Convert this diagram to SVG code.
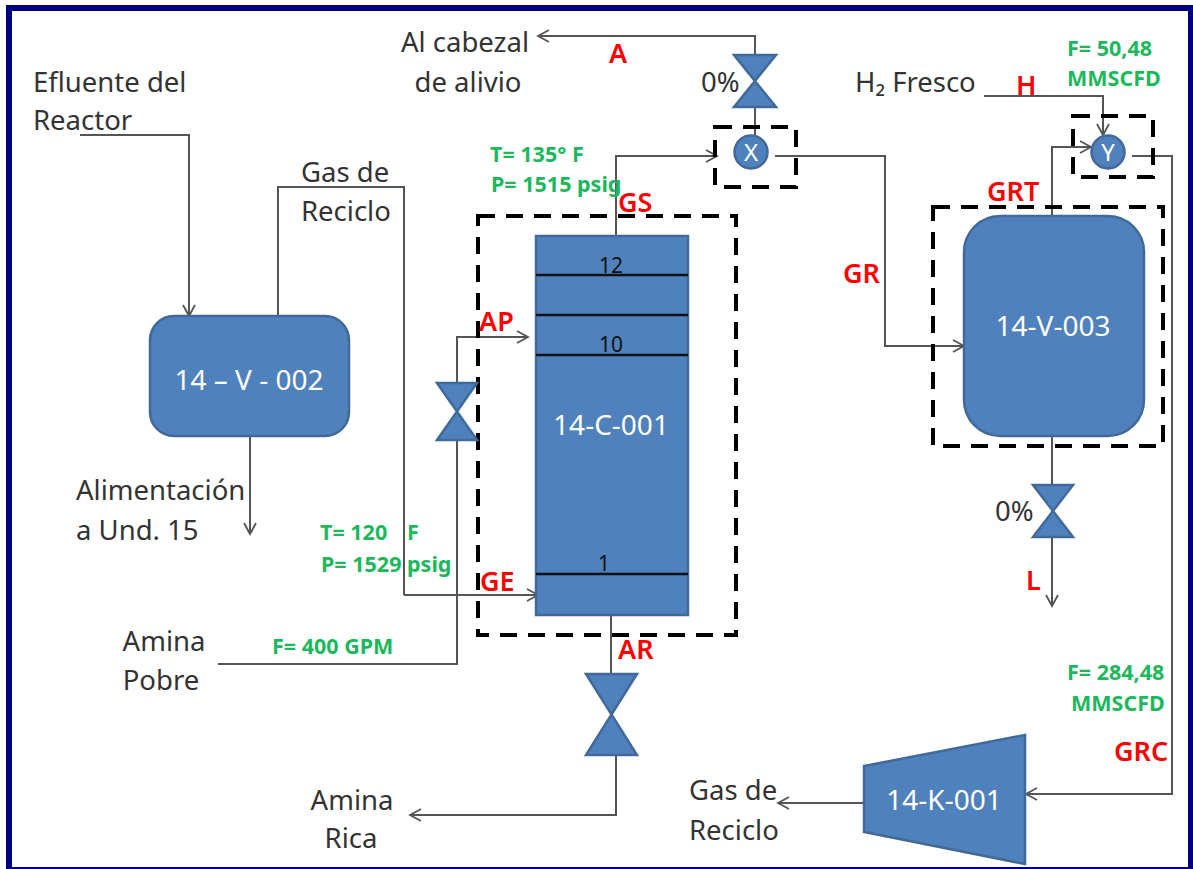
<svg xmlns="http://www.w3.org/2000/svg" width="1193" height="869" viewBox="0 0 1193 869">
<style>
text{font-family:"Noto Sans","Liberation Sans",sans-serif}
.t{font-size:27.5px;fill:#333}
.w{font-size:28px;fill:#fff}
.r{font-size:27px;fill:#f00;font-weight:600}
.g{font-size:21.5px;fill:#1cb85c;font-weight:700}
.n{font-size:21px;fill:#111;text-anchor:middle}
.m{text-anchor:middle}
.c{fill:none;stroke:#555;stroke-width:2}
.b{fill:#4f81bd;stroke:#41699a;stroke-width:2.5}
.d{fill:none;stroke:#000;stroke-width:4;stroke-dasharray:17 11}
.l{stroke:#111;stroke-width:2.5}
</style>
<defs><marker id="a" markerWidth="16" markerHeight="16" refX="12" refY="7" orient="auto" markerUnits="userSpaceOnUse"><path d="M1 1L12 7L1 13" fill="none" stroke="#555" stroke-width="1.8"/></marker></defs>
<rect x="9" y="8" width="1182" height="862" fill="#fff" stroke="#000080" stroke-width="6"/>
<g id="connectors">
<path class="c" marker-end="url(#a)" d="M80 135H189V316"/>
<path class="c" d="M278 316V187H404V595"/>
<path class="c" marker-end="url(#a)" d="M404 595H538"/>
<path class="c" marker-end="url(#a)" d="M250 436V534"/>
<path class="c" marker-end="url(#a)" d="M218 664H457V337H528"/>
<path class="c" marker-end="url(#a)" d="M616 236V156H717"/>
<path class="c" marker-end="url(#a)" d="M755 135V36H538"/>
<path class="c" marker-end="url(#a)" d="M775 156H885V346H964"/>
<path class="c" marker-end="url(#a)" d="M984 96H1103V135"/>
<path class="c" marker-end="url(#a)" d="M1052 216V147H1091"/>
<path class="c" marker-end="url(#a)" d="M1132 156H1172V794H1026"/>
<path class="c" marker-end="url(#a)" d="M1052 436V606"/>
<path class="c" d="M611 616V674"/>
<path class="c" marker-end="url(#a)" d="M616 755V815H410"/>
<path class="c" marker-end="url(#a)" d="M864 803H778"/>
</g>
<g id="dashed-boxes">
<rect class="d" x="478" y="216" width="258" height="419"/>
<rect class="d" x="715" y="127" width="81" height="60"/>
<rect class="d" x="933" y="207" width="230" height="239"/>
<rect class="d" x="1073" y="116" width="80" height="61"/>
</g>
<g id="v002"><rect class="b" x="150" y="316" width="199" height="120" rx="24"/><text class="w m" x="249" y="390">14 – V - 002</text></g>
<g id="c001"><rect class="b" x="536" y="236" width="152" height="379"/>
<path class="l" d="M536 275H688M536 315H688M536 355H688M536 574H688"/>
<text class="n" x="611" y="273">12</text><text class="n" x="611" y="352">10</text><text class="n" x="604" y="571">1</text>
<text class="w m" x="611" y="435">14-C-001</text></g>
<g id="v003"><rect class="b" x="964" y="216" width="180" height="220" rx="36"/><text class="w m" x="1053" y="336">14-V-003</text></g>
<g id="k001"><path class="b" d="M864 766L1025 735V864L864 832Z"/><text class="w m" x="944" y="810">14-K-001</text></g>
<g id="valve-top"><path class="b" d="M734 55H776L734 107H776Z"/></g>
<g id="valve-amine"><path class="b" d="M437 383H477L437 440H477Z"/></g>
<g id="valve-bottom"><path class="b" d="M586 674H637L586 755H637Z"/></g>
<g id="valve-l"><path class="b" d="M1033 485H1073L1033 537H1073Z"/></g>
<g id="x"><circle class="b" cx="751" cy="152" r="16.5"/><text class="m" x="751" y="161" font-size="24" fill="#fff">X</text></g>
<g id="y"><circle class="b" cx="1108" cy="152" r="16.5"/><text class="m" x="1108" y="161" font-size="24" fill="#fff">Y</text></g>
<g id="labels">
<text class="t" x="33" y="92">Efluente del</text><text class="t" x="33" y="130">Reactor</text>
<text class="t" x="301" y="182">Gas de</text><text class="t" x="301" y="221">Reciclo</text>
<text class="t m" x="465" y="52">Al cabezal</text><text class="t m" x="468" y="92">de alivio</text>
<text class="t" x="701" y="92">0%</text>
<text class="t" x="855" y="92">H₂ Fresco</text>
<text class="t" x="76" y="500">Alimentación</text><text class="t" x="76" y="540">a Und. 15</text>
<text class="t m" x="164" y="651">Amina</text><text class="t m" x="161" y="690">Pobre</text>
<text class="t m" x="352" y="810">Amina</text><text class="t m" x="351" y="848">Rica</text>
<text class="t" x="689" y="800">Gas de</text><text class="t" x="689" y="840">Reciclo</text>
<text class="t" x="995" y="521">0%</text>
<text class="g" x="490" y="162">T= 135° F</text><text class="g" x="491" y="192">P= 1515 psig</text>
<text class="g" x="320" y="540">T= 120<tspan x="407">F</tspan></text><text class="g" x="321" y="572">P= 1529 psig</text>
<text class="g" x="272" y="654">F= 400 GPM</text>
<text class="g" x="1067" y="56">F= 50,48</text><text class="g" x="1067" y="86">MMSCFD</text>
<text class="g" x="1067" y="680">F= 284,48</text><text class="g" x="1071" y="711">MMSCFD</text>
<text class="r" x="609" y="63">A</text><text class="r" x="1016" y="95">H</text>
<text class="r" x="987" y="201">GRT</text><text class="r" x="618" y="212">GS</text>
<text class="r" x="843" y="283">GR</text><text class="r" x="479" y="331">AP</text>
<text class="r" x="480" y="591">GE</text><text class="r" x="618" y="659">AR</text>
<text class="r" x="1026" y="590">L</text><text class="r" x="1114" y="761">GRC</text>
</g>
</svg>
